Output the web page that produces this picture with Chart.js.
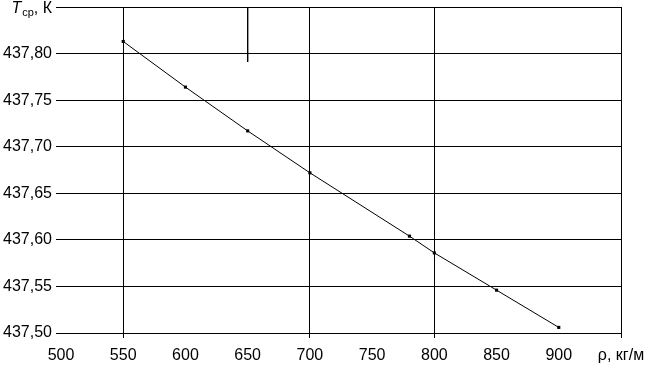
<!DOCTYPE html>
<html>
<head>
<meta charset="utf-8">
<script src="https://cdn.jsdelivr.net/npm/chart.js@4/dist/chart.umd.min.js"></script>
<style>
  html, body { margin: 0; padding: 0; background: #ffffff; }
  #wrap { width: 647px; height: 366px; }
</style>
</head>
<body>
<div id="wrap"><canvas id="c" width="647" height="366"></canvas></div>
<script>
// ---- data ----
const density = [550, 600, 650, 700, 780, 800, 850, 900];            // ρ, кг/м
const tempAvg = [437.813, 437.764, 437.717, 437.672, 437.604, 437.586, 437.546, 437.506]; // Tср, К
const xTicksShownGrid = [550, 700, 800, 950];
const stubX = [650, 650];
const stubY = [437.85, 437.791];
const xAxisTitle = 'ρ, кг/м';
const yAxisTitleMain = 'T';
const yAxisTitleSub = 'ср';
const yAxisTitleTail = ', К';

const FONT = 'Liberation Sans, Arial, sans-serif';

const yTitlePlugin = {
  id: 'yTitle',
  afterDraw(chart) {
    const ys = chart.scales.y;
    const ctx = chart.ctx;
    const yPix = ys.getPixelForValue(437.85);
    const right = ys.right - 5 - 4;
    ctx.save();
    ctx.fillStyle = '#000';
    ctx.textBaseline = 'alphabetic';
    const fMain = 'italic 16px ' + FONT;
    const fSub = '11px ' + FONT;
    const fTail = '16px ' + FONT;
    ctx.font = fMain; const wM = ctx.measureText(yAxisTitleMain).width;
    ctx.font = fSub; const wS = ctx.measureText(yAxisTitleSub).width;
    ctx.font = fTail; const wT = ctx.measureText(yAxisTitleTail).width;
    let x = right - (wM + wS + wT + 1);
    const base = yPix + 5.5;
    ctx.font = fMain; ctx.fillText(yAxisTitleMain, x, base); x += wM + 1;
    ctx.font = fSub; ctx.fillText(yAxisTitleSub, x, base + 3); x += wS;
    ctx.font = fTail; ctx.fillText(yAxisTitleTail, x, base);
    ctx.restore();
  }
};

new Chart(document.getElementById('c'), {
  type: 'scatter',
  data: {
    datasets: [
      {
        data: density.map((d, i) => ({ x: d, y: tempAvg[i] })),
        showLine: true,
        borderColor: '#000',
        borderWidth: 1,
        backgroundColor: '#000',
        pointStyle: 'rect',
        pointRadius: 2.2,
        pointBorderWidth: 0,
        tension: 0
      },
      {
        data: stubX.map((d, i) => ({ x: d, y: stubY[i] })),
        showLine: true,
        borderColor: '#000',
        borderWidth: 1,
        pointRadius: 0
      }
    ]
  },
  options: {
    responsive: false,
    animation: false,
    devicePixelRatio: 1,
    layout: { padding: 0 },
    plugins: { legend: { display: false }, tooltip: { enabled: false } },
    scales: {
      x: {
        type: 'linear',
        min: 500, max: 950,
        border: { display: false },
        grid: {
          color: (c) => (c.tick && xTicksShownGrid.some(v => Math.abs(v - c.tick.value) < 1e-6)) ? '#000' : 'rgba(0,0,0,0)',
          lineWidth: 1,
          tickLength: 5
        },
        ticks: {
          stepSize: 50,
          autoSkip: false,
          maxRotation: 0,
          padding: 8,
          color: '#000',
          font: { family: FONT, size: 16 },
          callback: (v) => Math.abs(v - 950) < 1e-6 ? xAxisTitle : String(v)
        },
        afterFit: (s) => { s.height = 33; s.paddingRight = 26; s.paddingLeft = 0; }
      },
      y: {
        type: 'linear',
        min: 437.5, max: 437.85,
        border: { display: false },
        grid: { color: '#000', lineWidth: 1, tickLength: 5 },
        ticks: {
          stepSize: 0.05,
          padding: 4,
          color: '#000',
          font: { family: FONT, size: 16 },
          callback: (v) => Math.abs(v - 437.85) < 1e-6 ? '' : v.toFixed(2).replace('.', ',')
        },
        afterFit: (s) => { s.width = 61; s.paddingTop = 7; s.paddingBottom = 0; }
      }
    }
  },
  plugins: [yTitlePlugin]
});
</script>
</body>
</html>
